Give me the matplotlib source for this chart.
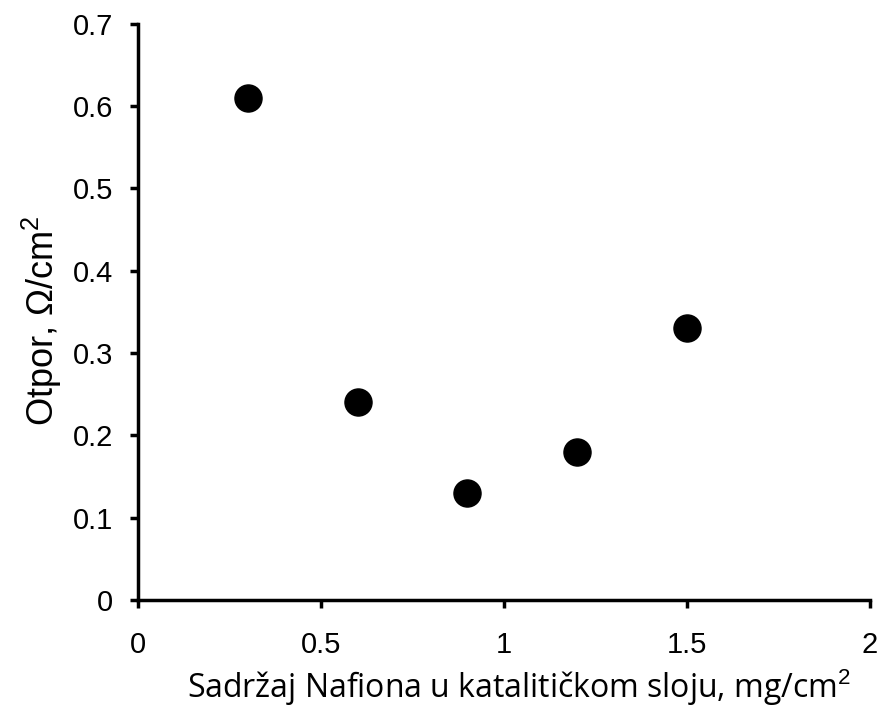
import numpy as np
from matplotlib import pyplot as plt

plt.rcParams['mathtext.fontset'] = 'custom'
plt.rcParams['mathtext.rm'] = 'Liberation Sans'

# nafion content (mg/cm2) and resistance
nafion = [0.3, 0.6, 0.9, 1.2, 1.5]
otpor = [0.61, 0.24, 0.13, 0.18, 0.33]

x_ticks = [0, 0.5, 1, 1.5, 2]
x_tick_labels = ['0', '0.5', '1', '1.5', '2']
y_ticks = [0, 0.1, 0.2, 0.3, 0.4, 0.5, 0.6, 0.7]
y_tick_labels = ['0', '0.1', '0.2', '0.3', '0.4', '0.5', '0.6', '0.7']

fig = plt.figure(figsize=(8.83, 7.13), dpi=100)
ax = fig.add_axes([0.1563, 0.1585, 0.829, 0.808])

ax.scatter(nafion, otpor, s=380, color='black', zorder=3)

ax.set_xlim(0, 2)
ax.set_ylim(0, 0.7)
ax.set_xticks(x_ticks)
ax.set_xticklabels(x_tick_labels, family='Liberation Sans', fontsize=21)
ax.set_yticks(y_ticks)
ax.set_yticklabels(y_tick_labels, family='Liberation Sans', fontsize=21)

for side in ['top', 'right']:
    ax.spines[side].set_visible(False)
for side in ['left', 'bottom']:
    ax.spines[side].set_linewidth(2.5)
ax.tick_params(direction='out', length=6, width=2.5)
ax.tick_params(axis='x', pad=16)
ax.tick_params(axis='y', pad=12)

ax.set_xlabel('Sadržaj Nafiona u katalitičkom sloju, mg/cm$^{2}$',
              family='Open Sans', fontsize=23, labelpad=6, x=0.52)
ax.set_ylabel('Otpor, Ω/cm$^{2}$', family='Liberation Sans', fontsize=26,
              labelpad=6, y=0.485)

fig.savefig('out.png', dpi=100)
